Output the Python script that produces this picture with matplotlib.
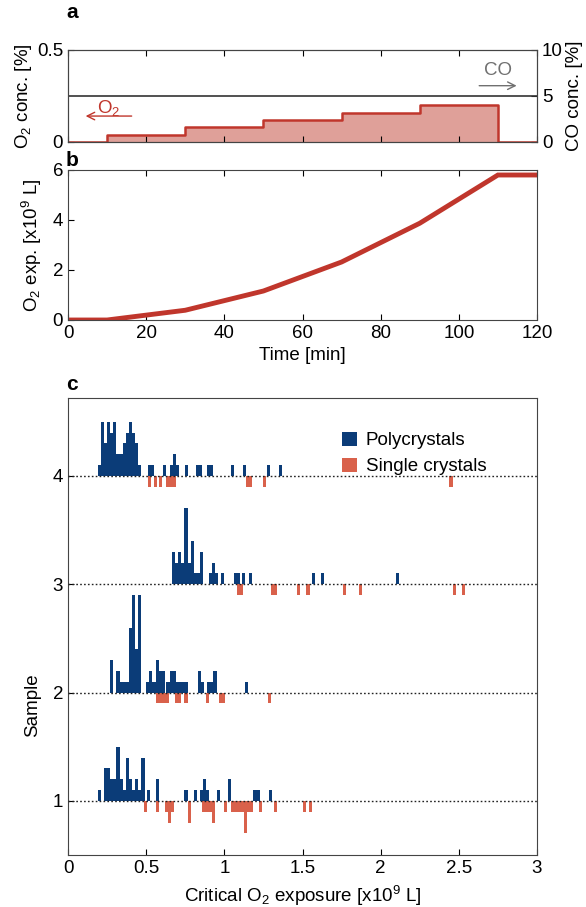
import numpy as np
import matplotlib
matplotlib.use("Agg")
import matplotlib.pyplot as plt

plt.rcParams['font.family'] = ['Liberation Sans', 'DejaVu Sans']
plt.rcParams['font.size'] = 13.5
plt.rcParams['mathtext.fontset'] = 'custom'
plt.rcParams['mathtext.rm'] = 'Liberation Sans'
plt.rcParams['mathtext.it'] = 'Liberation Sans'

RED_LINE = '#c0362c'
RED_FILL = '#dfa099'
BLUE = '#0b3c78'
RED = '#d9614b'
GRAY = '#707070'

# ---------------- panel a : gas composition ----------------
step_times = [0, 10, 30, 50, 70, 90, 110, 120]
o2_conc = [0, 0.04, 0.08, 0.12, 0.16, 0.20, 0, 0]     # O2 [%] from each time on
co_conc = 5.0                                          # CO [%]

# ---------------- panel b : O2 exposure ----------------
exp_times = [0, 10, 30, 50, 70, 90, 110, 120]
o2_exposure = [0, 0, 0.39, 1.16, 2.32, 3.87, 5.8, 5.8]  # x10^9 L

# ---------------- panel c : critical O2 exposure histograms ----------------
bin_w = 0.02
samples = [1, 2, 3, 4]

poly4_x = [0.19, 0.21, 0.23, 0.25, 0.27, 0.29, 0.31, 0.33, 0.35, 0.37, 0.39, 0.41, 0.43, 0.45,
           0.51, 0.53, 0.61, 0.65, 0.67, 0.69, 0.75, 0.82, 0.84, 0.89, 0.91, 1.04, 1.12, 1.27, 1.35]
poly4_n = [1, 5, 3, 5, 4, 5, 2, 2, 3, 4, 5, 4, 3, 1,
           1, 1, 1, 1, 2, 1, 1, 1, 1, 1, 1, 1, 1, 1, 1]
single4_x = [0.51, 0.55, 0.58, 0.63, 0.65, 0.67, 1.14, 1.16, 1.245, 2.44]
single4_n = [1, 1, 1, 1, 1, 1, 1, 1, 1, 1]

poly3_x = [0.665, 0.685, 0.705, 0.725, 0.745, 0.765, 0.785, 0.805, 0.825, 0.845,
           0.90, 0.92, 0.94, 0.98, 1.06, 1.08, 1.115, 1.155, 1.56, 1.62, 2.10]
poly3_n = [3, 2, 3, 2, 7, 2, 4, 1, 1, 3,
           1, 2, 1, 1, 1, 1, 1, 1, 1, 1, 1]
single3_x = [1.08, 1.10, 1.30, 1.32, 1.465, 1.525, 1.76, 1.86, 2.46, 2.52]
single3_n = [1, 1, 1, 1, 1, 1, 1, 1, 1, 1]

poly2_x = [0.27, 0.31, 0.33, 0.35, 0.37, 0.39, 0.41, 0.43, 0.45,
           0.50, 0.52, 0.54, 0.56, 0.58, 0.60, 0.63, 0.65, 0.67, 0.69, 0.71, 0.73, 0.75,
           0.83, 0.85, 0.89, 0.91, 0.93, 1.13]
poly2_n = [3, 2, 1, 1, 1, 6, 9, 4, 9,
           1, 2, 1, 3, 2, 2, 1, 2, 2, 1, 1, 1, 1,
           2, 1, 1, 1, 2, 1]
single2_x = [0.565, 0.585, 0.605, 0.625, 0.685, 0.705, 0.745, 0.885, 0.965, 0.985, 1.28]
single2_n = [1, 1, 1, 1, 1, 1, 1, 1, 1, 1, 1]

poly1_x = [0.19, 0.23, 0.25, 0.27, 0.29, 0.31, 0.33, 0.35, 0.37, 0.39, 0.41, 0.43, 0.45, 0.47,
           0.505, 0.565, 0.745, 0.805, 0.845, 0.865, 0.885, 0.95, 1.025, 1.185, 1.205, 1.285]
poly1_n = [1, 3, 3, 2, 2, 5, 2, 1, 4, 2, 1, 2, 1, 4,
           1, 2, 1, 1, 1, 2, 1, 1, 2, 1, 1, 1]
single1_x = [0.485, 0.565, 0.62, 0.64, 0.66, 0.765, 0.86, 0.88, 0.90, 0.92, 1.00,
             1.045, 1.065, 1.085, 1.105, 1.125, 1.145, 1.165, 1.22, 1.32, 1.50, 1.54]
single1_n = [1, 1, 1, 2, 1, 2, 1, 1, 1, 2, 1,
             1, 1, 1, 1, 3, 1, 1, 1, 1, 1, 1]

count_scale = 0.1  # y-units per crystal

poly_x = [poly1_x, poly2_x, poly3_x, poly4_x]
poly_n = [poly1_n, poly2_n, poly3_n, poly4_n]
single_x = [single1_x, single2_x, single3_x, single4_x]
single_n = [single1_n, single2_n, single3_n, single4_n]

W, H = 586.0, 907.0
fig = plt.figure(figsize=(W / 100, H / 100), dpi=100)

def px_axes(left, top, right, bottom):
    return fig.add_axes([left / W, 1 - bottom / H, (right - left) / W, (bottom - top) / H])

def panel_label(x, y, s):
    fig.text(x / W, 1 - y / H, s, fontsize=15, fontweight='bold', ha='left', va='center')

# ---- panel a ----
axa = px_axes(68, 50, 537, 142)
t_fill = np.repeat(step_times, 2)[1:]
c_fill = np.repeat(o2_conc, 2)[:-1]
axa.fill_between(t_fill, c_fill, 0, color=RED_FILL, lw=0)
axa.plot(t_fill, c_fill, color=RED_LINE, lw=1.8)
axa.set_xlim(0, 120)
axa.set_ylim(0, 0.5)
axa.set_yticks([0, 0.5])
axa.set_yticklabels(['0', '0.5'])
axa.set_xticks(np.arange(0, 121, 20))
axa.tick_params(axis='x', labelbottom=False, top=True, direction='in', length=4)
axa.tick_params(axis='y', direction='in', length=4)
axa.set_ylabel('O$_2$ conc. [%]', labelpad=2)
axa2 = axa.twinx()
axa2.axhline(co_conc, color='#333333', lw=1.2)
axa2.set_ylim(0, 10)
axa2.set_yticks([0, 5, 10])
axa2.tick_params(direction='in', length=4)
axa2.set_ylabel('CO conc. [%]', labelpad=2)
axa.annotate('', xy=(115.5, 0.306), xytext=(104.5, 0.306),
             arrowprops=dict(arrowstyle='->', color=GRAY, lw=1))
axa.text(110, 0.39, 'CO', color=GRAY, ha='center', va='center')
axa.annotate('', xy=(3.8, 0.141), xytext=(17, 0.141),
             arrowprops=dict(arrowstyle='->', color=RED_LINE, lw=1))
axa.text(10.3, 0.185, 'O$_2$', color=RED_LINE, ha='center', va='center')
panel_label(66, 12, 'a')

# ---- panel b ----
axb = px_axes(68, 170, 537, 320)
axb.plot(exp_times, o2_exposure, color=RED_LINE, lw=3.5, solid_joinstyle='miter')
axb.set_xlim(0, 120)
axb.set_ylim(0, 6)
axb.set_xticks(np.arange(0, 121, 20))
axb.set_yticks([0, 2, 4, 6])
axb.tick_params(direction='in', length=4, top=True)
axb.set_xlabel('Time [min]', labelpad=4)
axb.set_ylabel('O$_2$ exp. [x10$^9$ L]', labelpad=6)
panel_label(66, 160, 'b')

# ---- panel c ----
axc = px_axes(68, 398, 537, 855)
for s, px_, pn, sx, sn in zip(samples, poly_x, poly_n, single_x, single_n):
    axc.bar(px_, np.array(pn) * count_scale, width=bin_w, bottom=s, align='edge',
            color=BLUE, edgecolor='none', label='Polycrystals' if s == 1 else None)
    axc.bar(sx, -np.array(sn) * count_scale, width=bin_w, bottom=s, align='edge',
            color=RED, edgecolor='none', label='Single crystals' if s == 1 else None)
    axc.axhline(s, color='#222222', lw=1, ls=(0, (1.2, 1.6)), zorder=3)
axc.set_xlim(0, 3)
axc.set_ylim(0.5, 4.72)
axc.set_xticks(np.arange(0, 3.01, 0.5))
axc.set_xticklabels(['0', '0.5', '1', '1.5', '2', '2.5', '3'])
axc.set_yticks(samples)
axc.tick_params(direction='in', length=4)
axc.set_xlabel('Critical O$_2$ exposure [x10$^9$ L]', labelpad=5)
axc.set_ylabel('Sample')
axc.yaxis.set_label_coords(-0.058, (855 - 705) / 457.0)
leg = axc.legend(loc='upper left', frameon=False, handlelength=0.8, handleheight=0.8,
                 handletextpad=0.5, labelspacing=0.45,
                 bbox_to_anchor=((334 - 68) / 469.0, (855 - 424) / 457.0), borderaxespad=0)
panel_label(66, 385, 'c')

for ax in (axa, axa2, axb, axc):
    for sp in ax.spines.values():
        sp.set_color('#444444')

fig.savefig('out.png', dpi=100)
